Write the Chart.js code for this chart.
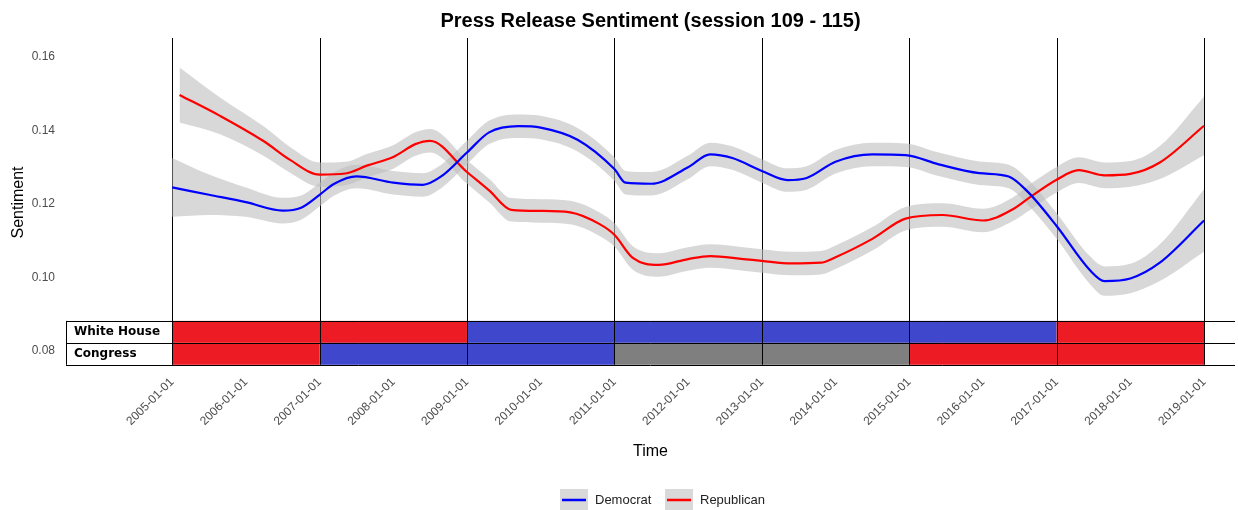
<!DOCTYPE html>
<html>
<head>
<meta charset="utf-8">
<script src="https://cdn.jsdelivr.net/npm/chart.js@4"></script>
<style>
  body { margin: 0; background: #fff; }
  #wrap { width: 1238px; height: 510px; }
</style>
</head>
<body>
<div id="wrap"><canvas id="chart" width="1238" height="510"></canvas></div>
<script>
// ---- data ----
const demYears = [2005.0, 2005.5, 2006.0, 2006.5, 2006.75, 2007.0, 2007.2, 2007.5, 2008.0, 2008.4, 2008.65, 2009.0, 2009.3, 2009.7, 2010.0, 2010.5, 2011.0, 2011.15, 2011.5, 2012.0, 2012.3, 2012.6, 2013.0, 2013.35, 2013.6, 2014.0, 2014.5, 2014.95, 2015.4, 2015.95, 2016.35, 2016.6, 2017.0, 2017.45, 2017.65, 2018.0, 2018.4, 2019.0];
const demVals  = [0.1245, 0.1225, 0.1205, 0.1182, 0.1190, 0.1225, 0.1255, 0.1275, 0.1258, 0.1252, 0.1275, 0.1340, 0.1395, 0.1412, 0.1408, 0.1375, 0.1295, 0.1258, 0.1255, 0.1300, 0.1335, 0.1325, 0.1290, 0.1265, 0.1270, 0.1315, 0.1335, 0.1333, 0.1308, 0.1284, 0.1275, 0.1235, 0.1140, 0.1020, 0.0990, 0.0997, 0.1040, 0.1155];
const demHalf  = [0.0080, 0.0055, 0.0040, 0.0035, 0.0033, 0.0032, 0.0032, 0.0032, 0.0032, 0.0032, 0.0032, 0.0032, 0.0032, 0.0032, 0.0032, 0.0032, 0.0032, 0.0032, 0.0032, 0.0032, 0.0032, 0.0032, 0.0032, 0.0032, 0.0032, 0.0032, 0.0032, 0.0032, 0.0032, 0.0032, 0.0032, 0.0035, 0.0035, 0.0038, 0.0040, 0.0040, 0.0050, 0.0085];

const repYears = [2005.1, 2005.65, 2006.25, 2006.6, 2007.0, 2007.35, 2007.65, 2008.0, 2008.3, 2008.5, 2009.0, 2009.3, 2009.6, 2010.0, 2010.4, 2010.8, 2011.0, 2011.25, 2011.6, 2012.0, 2012.3, 2012.75, 2013.0, 2013.4, 2013.8, 2014.0, 2014.5, 2014.95, 2015.45, 2016.0, 2016.4, 2016.65, 2017.0, 2017.3, 2017.65, 2018.0, 2018.4, 2019.0];
const repVals  = [0.1497, 0.1440, 0.1370, 0.1320, 0.1280, 0.1283, 0.1305, 0.1328, 0.1363, 0.1372, 0.1287, 0.1237, 0.1184, 0.1181, 0.1177, 0.1145, 0.1116, 0.1053, 0.1034, 0.1050, 0.1058, 0.1050, 0.1045, 0.1038, 0.1040, 0.1055, 0.1105, 0.1160, 0.1170, 0.1155, 0.1185, 0.1220, 0.1266, 0.1292, 0.1278, 0.1282, 0.1313, 0.1413];
const repHalf  = [0.0075, 0.0050, 0.0040, 0.0035, 0.0033, 0.0032, 0.0032, 0.0032, 0.0032, 0.0032, 0.0032, 0.0032, 0.0032, 0.0032, 0.0032, 0.0032, 0.0032, 0.0032, 0.0032, 0.0032, 0.0032, 0.0032, 0.0032, 0.0032, 0.0032, 0.0032, 0.0032, 0.0032, 0.0032, 0.0032, 0.0032, 0.0035, 0.0035, 0.0035, 0.0035, 0.0035, 0.0045, 0.0080];

const tickYears = [2005, 2006, 2007, 2008, 2009, 2010, 2011, 2012, 2013, 2014, 2015, 2016, 2017, 2018, 2019];
const sessionBreaks = [2005, 2007, 2009, 2011, 2013, 2015, 2017, 2019];
const yTicks = [0.08, 0.10, 0.12, 0.14, 0.16];

// control periods: [start, end, party]
const whiteHouse = [[2005, 2009, "R"], [2009, 2017, "D"], [2017, 2019, "R"]];
const congress   = [[2005, 2007, "R"], [2007, 2011, "D"], [2011, 2015, "S"], [2015, 2019, "R"]];
const partyColor = { R: "#ED1C24", D: "#3F48CC", S: "#7F7F7F" };

// band value ranges
const WH_TOP = 0.08816, WH_BOT = 0.08218, CG_BOT = 0.0762;

const pts = (xs, ys) => xs.map((x, i) => ({ x, y: ys[i] }));
const band = (xs, ys, hs, s) => xs.map((x, i) => ({ x, y: ys[i] + s * hs[i] }));
const ribbon = "rgba(190,190,190,0.6)";
const smooth = { cubicInterpolationMode: "monotone", pointRadius: 0 };

// ---- plugin: bands, labels, title, legend ----
const decor = {
  id: "decor",
  beforeDatasetsDraw(chart) {
    const { ctx, scales: { x, y }, chartArea: a } = chart;
    ctx.save();
    const rows = [[whiteHouse, WH_TOP, WH_BOT], [congress, WH_BOT, CG_BOT]];
    rows.forEach(([periods, top, bot]) => {
      periods.forEach(([s, e, p]) => {
        ctx.fillStyle = partyColor[p];
        ctx.fillRect(x.getPixelForValue(s), y.getPixelForValue(top), x.getPixelForValue(e) - x.getPixelForValue(s), y.getPixelForValue(bot) - y.getPixelForValue(top));
      });
    });
    ctx.strokeStyle = "#000";
    ctx.lineWidth = 1;
    [WH_TOP, WH_BOT, CG_BOT].forEach(v => {
      const py = Math.round(y.getPixelForValue(v)) + 0.5;
      ctx.beginPath(); ctx.moveTo(a.left, py); ctx.lineTo(a.right, py); ctx.stroke();
    });
    const l = Math.round(a.left) + 0.5;
    ctx.beginPath(); ctx.moveTo(l, y.getPixelForValue(WH_TOP)); ctx.lineTo(l, y.getPixelForValue(CG_BOT)); ctx.stroke();
    sessionBreaks.forEach(v => {
      const px = Math.round(x.getPixelForValue(v)) + 0.5;
      ctx.beginPath(); ctx.moveTo(px, a.top); ctx.lineTo(px, y.getPixelForValue(CG_BOT)); ctx.stroke();
    });
    ctx.fillStyle = "#000";
    ctx.font = "bold 12px 'DejaVu Sans'";
    ctx.textBaseline = "middle";
    ctx.fillText("White House", a.left + 8, (y.getPixelForValue(WH_TOP) + y.getPixelForValue(WH_BOT)) / 2);
    ctx.fillText("Congress", a.left + 8, (y.getPixelForValue(WH_BOT) + y.getPixelForValue(CG_BOT)) / 2);
    ctx.restore();
  },
  afterDraw(chart) {
    const { ctx, chartArea: a } = chart;
    ctx.save();
    ctx.fillStyle = "#000";
    ctx.textAlign = "center";
    ctx.textBaseline = "middle";
    ctx.font = "bold 20px 'Liberation Sans'";
    ctx.fillText("Press Release Sentiment (session 109 - 115)", (a.left + a.right) / 2, 21);
    ctx.font = "16px 'Liberation Sans'";
    ctx.fillText("Time", (a.left + a.right) / 2, 452);
    ctx.save();
    ctx.translate(19, (a.top + a.bottom) / 2);
    ctx.rotate(-Math.PI / 2);
    ctx.fillText("Sentiment", 0, 0);
    ctx.restore();
    // legend
    ctx.font = "13px 'Liberation Sans'";
    ctx.textAlign = "left";
    [["Democrat", "#0000FF", 560], ["Republican", "#FF0000", 665]].forEach(([t, c, lx]) => {
      ctx.fillStyle = "#d9d9d9";
      ctx.fillRect(lx, 489, 28, 22);
      ctx.strokeStyle = c; ctx.lineWidth = 2.5;
      ctx.beginPath(); ctx.moveTo(lx + 2, 500); ctx.lineTo(lx + 26, 500); ctx.stroke();
      ctx.fillStyle = "#222";
      ctx.fillText(t, lx + 35, 500);
    });
    ctx.restore();
  }
};

new Chart(document.getElementById("chart"), {
  type: "line",
  data: {
    datasets: [
      { label: "Democrat", data: pts(demYears, demVals), borderColor: "#0000FF", borderWidth: 2.2, fill: false, order: 0, ...smooth },
      { label: "Republican", data: pts(repYears, repVals), borderColor: "#FF0000", borderWidth: 2.2, fill: false, order: 0, ...smooth },
      { data: band(demYears, demVals, demHalf, 1), borderWidth: 0, fill: false, backgroundColor: ribbon, order: 1, ...smooth },
      { data: band(demYears, demVals, demHalf, -1), borderWidth: 0, fill: "-1", backgroundColor: ribbon, order: 1, ...smooth },
      { data: band(repYears, repVals, repHalf, 1), borderWidth: 0, fill: false, backgroundColor: ribbon, order: 1, ...smooth },
      { data: band(repYears, repVals, repHalf, -1), borderWidth: 0, fill: "-1", backgroundColor: ribbon, order: 1, ...smooth }
    ]
  },
  options: {
    responsive: false,
    animation: false,
    layout: { padding: { top: 38, right: 3, left: 0, bottom: 0 } },
    plugins: { legend: { display: false }, tooltip: { enabled: false } },
    scales: {
      x: {
        type: "linear", min: 2003.56, max: 2019.42,
        afterBuildTicks: s => { s.ticks = tickYears.map(v => ({ value: v })); },
        afterFit: s => { s.height = 143; },
        ticks: { callback: v => v + "-01-01", maxRotation: 45, minRotation: 45, color: "#4d4d4d", font: { size: 12, family: "Liberation Sans" }, padding: 0 },
        grid: { display: false },
        border: { display: false }
      },
      y: {
        min: 0.0756, max: 0.1652,
        afterBuildTicks: s => { s.ticks = yTicks.map(v => ({ value: v })); },
        afterFit: s => { s.width = 66; },
        ticks: { callback: v => v.toFixed(2), color: "#4d4d4d", font: { size: 12, family: "Liberation Sans" } },
        grid: { display: false },
        border: { display: false }
      }
    }
  },
  plugins: [decor]
});
</script>
</body>
</html>
